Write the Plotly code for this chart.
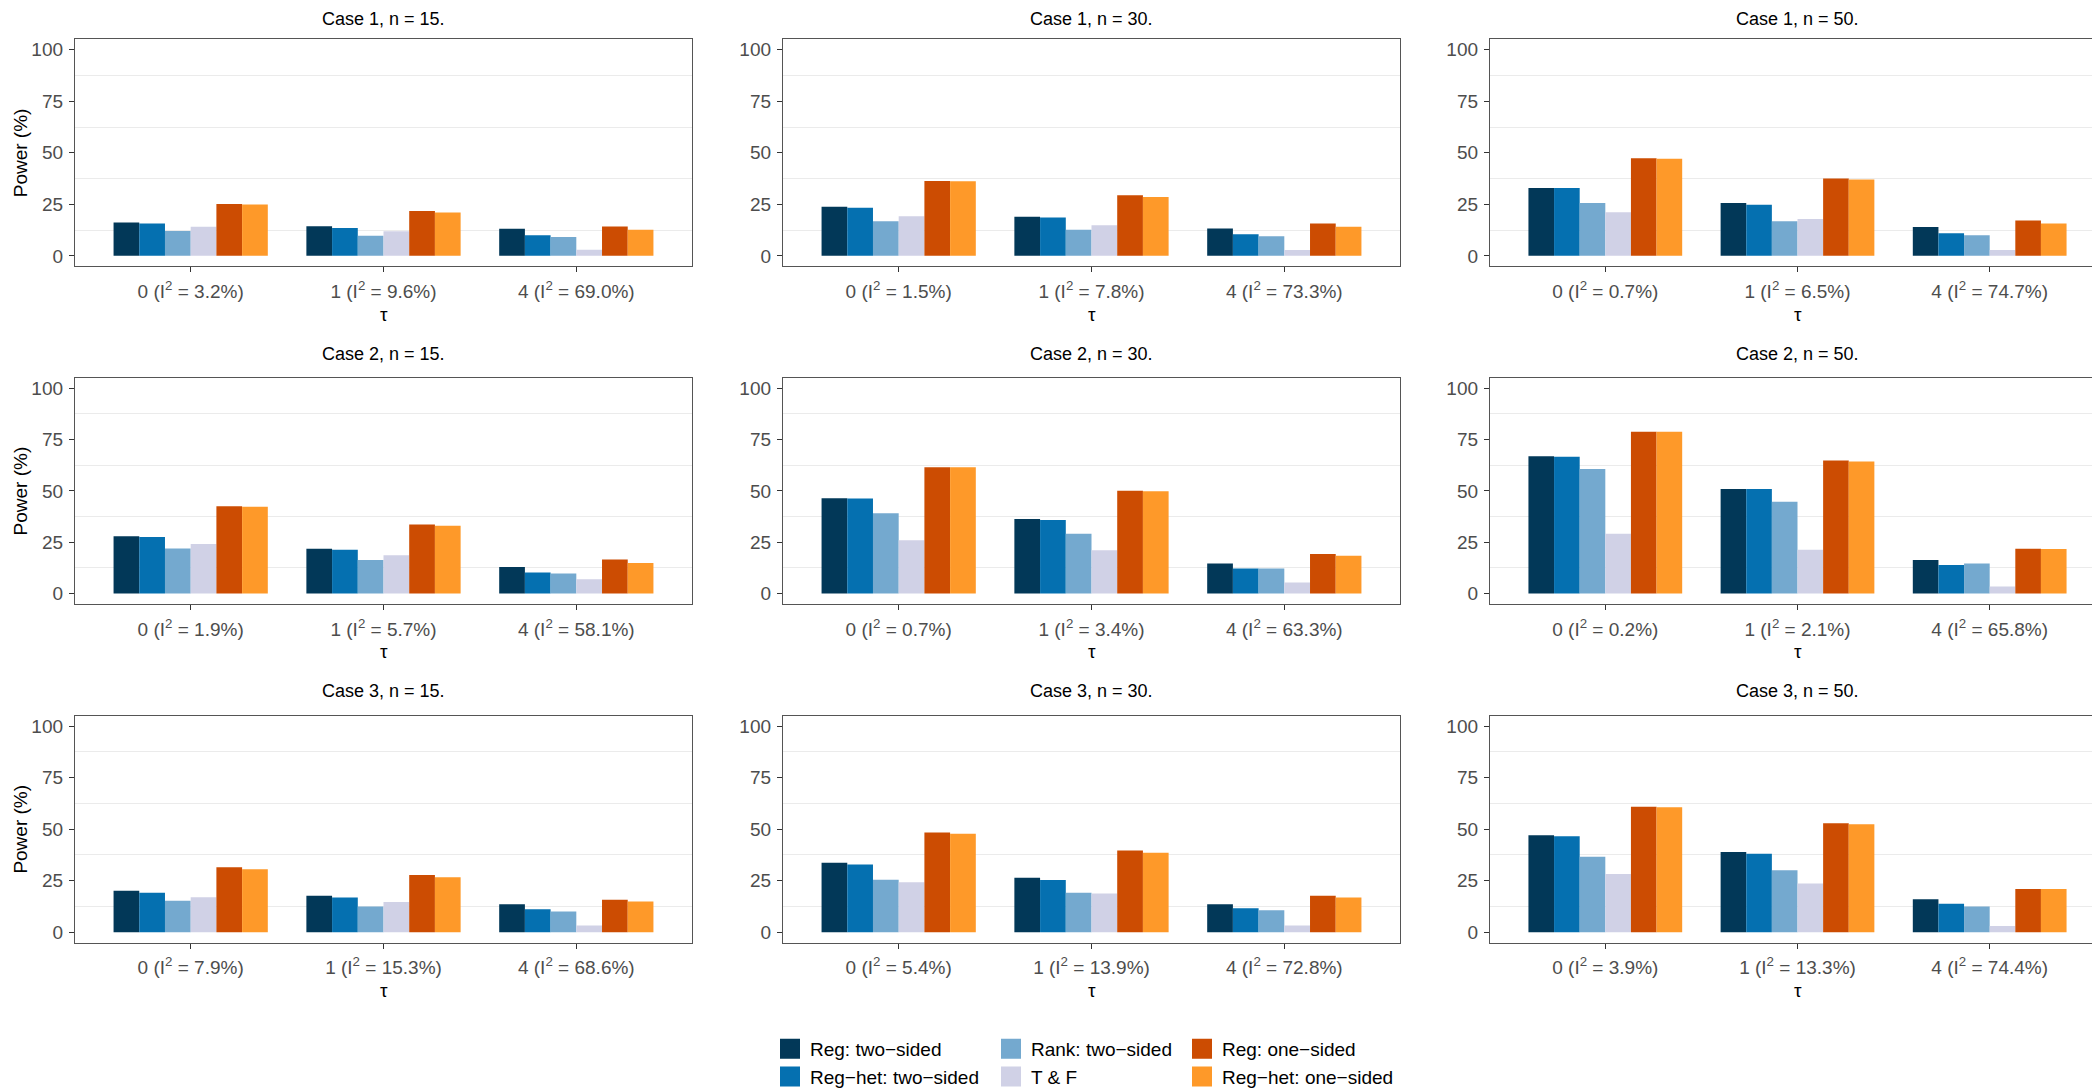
import plotly.graph_objects as go

# ---------------- data ----------------
cases = ["Case 1", "Case 2", "Case 3"]
ns = [15, 30, 50]
taus = ["0", "1", "4"]
methods = ["Reg: two\u2212sided", "Reg\u2212het: two\u2212sided", "Rank: two\u2212sided",
           "T & F", "Reg: one\u2212sided", "Reg\u2212het: one\u2212sided"]
colors = ["#023858", "#0570b0", "#74a9cf", "#d0d1e6", "#cc4c02", "#fe9929"]

# I^2 (%) per panel, ordered Case 1 (n=15,30,50), Case 2 (...), Case 3 (...)
i2 = [
    [3.2, 9.6, 69.0], [1.5, 7.8, 73.3], [0.7, 6.5, 74.7],
    [1.9, 5.7, 58.1], [0.7, 3.4, 63.3], [0.2, 2.1, 65.8],
    [7.9, 15.3, 68.6], [5.4, 13.9, 72.8], [3.9, 13.3, 74.4],
]

# Power (%) per panel and tau
reg_two = [
    [16.2, 14.4, 13.2], [23.8, 19.0, 13.3], [32.9, 25.6, 14.0],
    [27.9, 21.9, 13.0], [46.4, 36.3, 14.7], [66.9, 50.9, 16.3],
    [20.1, 17.7, 13.6], [33.7, 26.4, 13.6], [47.0, 38.9, 16.0],
]
reghet_two = [
    [15.7, 13.5, 10.0], [23.3, 18.6, 10.5], [32.9, 24.8, 11.0],
    [27.6, 21.4, 10.3], [46.3, 35.8, 12.2], [66.7, 50.9, 13.9],
    [19.1, 16.8, 11.1], [32.8, 25.3, 11.6], [46.5, 38.0, 13.8],
]
rank_two = [
    [12.1, 9.7, 9.2], [16.8, 12.7, 9.5], [25.7, 16.8, 10.0],
    [22.0, 16.3, 9.8], [39.1, 29.2, 12.2], [60.7, 44.7, 14.7],
    [15.3, 12.5, 10.1], [25.5, 19.1, 10.6], [36.6, 30.1, 12.5],
]
tf = [
    [14.1, 11.9, 3.0], [19.2, 14.8, 2.9], [21.1, 17.9, 2.9],
    [24.1, 18.7, 7.0], [26.0, 21.1, 5.4], [29.2, 21.4, 3.5],
    [16.9, 14.6, 3.2], [24.2, 18.8, 3.2], [28.2, 23.6, 3.0],
]
reg_one = [
    [25.2, 21.7, 14.3], [36.3, 29.4, 15.7], [47.3, 37.5, 17.1],
    [42.6, 33.6, 16.6], [61.5, 50.1, 19.3], [78.9, 64.8, 21.9],
    [31.5, 27.7, 15.8], [48.4, 39.6, 17.7], [60.9, 52.8, 20.9],
]
reghet_one = [
    [24.9, 21.0, 12.7], [36.2, 28.6, 14.1], [47.1, 37.0, 15.7],
    [42.3, 33.1, 14.9], [61.5, 49.9, 18.4], [78.9, 64.3, 21.7],
    [30.5, 26.7, 14.9], [47.8, 38.6, 16.8], [60.6, 52.4, 20.9],
]
series = [reg_two, reghet_two, rank_two, tf, reg_one, reghet_one]

y_ticks = [0, 25, 50, 75, 100]
y_minor = [12.5, 37.5, 62.5, 87.5]

# ---------------- layout geometry (pixels) ----------------
W, H = 2100, 1088
col_px = [(67, 684), (775, 1392), (1482, 2097)]
row_px = [(32, 263), (377, 607), (721, 952)]
FONT = "Liberation Sans, Arial, sans-serif"


def px_x(v):
    return v / W


def px_y(v):
    return 1 - v / H


fig = go.Figure()
layout = dict(
    width=W, height=H,
    margin=dict(l=0, r=0, t=0, b=0),
    paper_bgcolor="white", plot_bgcolor="white",
    barmode="group", bargap=0.2, bargroupgap=0,
    font=dict(family=FONT, size=19, color="black"),
    showlegend=True,
)
annotations = []

for r in range(3):
    for c in range(3):
        idx = r * 3 + c
        k = idx + 1
        xa = "x" if k == 1 else f"x{k}"
        ya = "y" if k == 1 else f"y{k}"
        for m, (name, col) in enumerate(zip(methods, colors)):
            fig.add_trace(go.Bar(
                x=taus, y=series[m][idx], name=name,
                marker=dict(color=col, line=dict(width=0)),
                xaxis=xa, yaxis=ya, showlegend=False,
                hovertemplate=name + ": %{y}<extra></extra>",
            ))
        x0, x1 = col_px[c]
        t0, t1 = row_px[r]
        ticktext = [f"{t} (I<sup>2</sup> = {v:.1f}%)" for t, v in zip(taus, i2[idx])]
        layout["xaxis" if k == 1 else f"xaxis{k}"] = dict(
            domain=[px_x(x0), px_x(x1)], anchor=ya,
            type="category", range=[-0.6, 2.6],
            tickmode="array", tickvals=taus, ticktext=ticktext,
            ticks="outside", ticklen=5, tickwidth=1, tickcolor="#333333",
            tickfont=dict(family=FONT, size=19, color="#4D4D4D"),
            ticklabelstandoff=3,
            showgrid=False, zeroline=False,
            showline=True, linecolor="#555555", linewidth=1.3, mirror=True,
            fixedrange=True,
        )
        layout["yaxis" if k == 1 else f"yaxis{k}"] = dict(
            domain=[px_y(t1), px_y(t0)], anchor=xa,
            range=[-5, 105],
            tickmode="array", tickvals=y_ticks, ticktext=[str(v) for v in y_ticks],
            ticks="outside", ticklen=5, tickwidth=1, tickcolor="#333333",
            tickfont=dict(family=FONT, size=19, color="#4D4D4D"),
            ticklabelstandoff=2,
            showgrid=False, zeroline=False,
            minor=dict(tickvals=y_minor, showgrid=True, gridcolor="#EBEBEB",
                       gridwidth=1.1, ticks=""),
            showline=True, linecolor="#555555", linewidth=1.3, mirror=True,
            fixedrange=True,
        )
        cx = px_x((x0 + x1) / 2)
        if r == 0:
            title_pos = dict(y=px_y(0), yanchor="top")
        else:
            title_pos = dict(y=px_y(t0 - 25), yanchor="middle")
        annotations.append(dict(
            text=f"{cases[r]}, n = {ns[c]}.", x=cx,
            xref="paper", yref="paper", showarrow=False,
            xanchor="center", borderpad=0,
            font=dict(family=FONT, size=18, color="black"),
            **title_pos,
        ))
        annotations.append(dict(
            text="\u03c4", x=cx, y=px_y(t1 + 49),
            xref="paper", yref="paper", showarrow=False,
            xanchor="center", yanchor="middle",
            font=dict(family=FONT, size=19, color="black"),
        ))
    annotations.append(dict(
        text="Power (%)", x=px_x(1), y=px_y((row_px[r][0] + row_px[r][1]) / 2),
        xref="paper", yref="paper", showarrow=False, textangle=-90,
        xanchor="left", yanchor="middle", borderpad=0,
        font=dict(family=FONT, size=19, color="black"),
    ))

# legend entries (3 columns x 2 rows, like the reference)
legend_names = ["legend", "legend", "legend2", "legend2", "legend3", "legend3"]
for m, (name, col) in enumerate(zip(methods, colors)):
    fig.add_trace(go.Scatter(
        x=[None], y=[None], mode="markers", name=name,
        marker=dict(symbol="square", size=16, color=col, line=dict(color=col, width=4)),
        legend=legend_names[m], showlegend=True, hoverinfo="skip",
    ))

leg_common = dict(
    orientation="v", xanchor="left", yanchor="top",
    font=dict(family=FONT, size=19, color="black"),
    bgcolor="rgba(0,0,0,0)", borderwidth=0, tracegroupgap=0,
    itemclick=False, itemdoubleclick=False,
)
layout["legend"] = dict(leg_common, x=px_x(762), y=px_y(1041))
layout["legend2"] = dict(leg_common, x=px_x(983), y=px_y(1041))
layout["legend3"] = dict(leg_common, x=px_x(1174), y=px_y(1041))
layout["annotations"] = annotations

fig.update_layout(**layout)
fig.write_html("out.html")
